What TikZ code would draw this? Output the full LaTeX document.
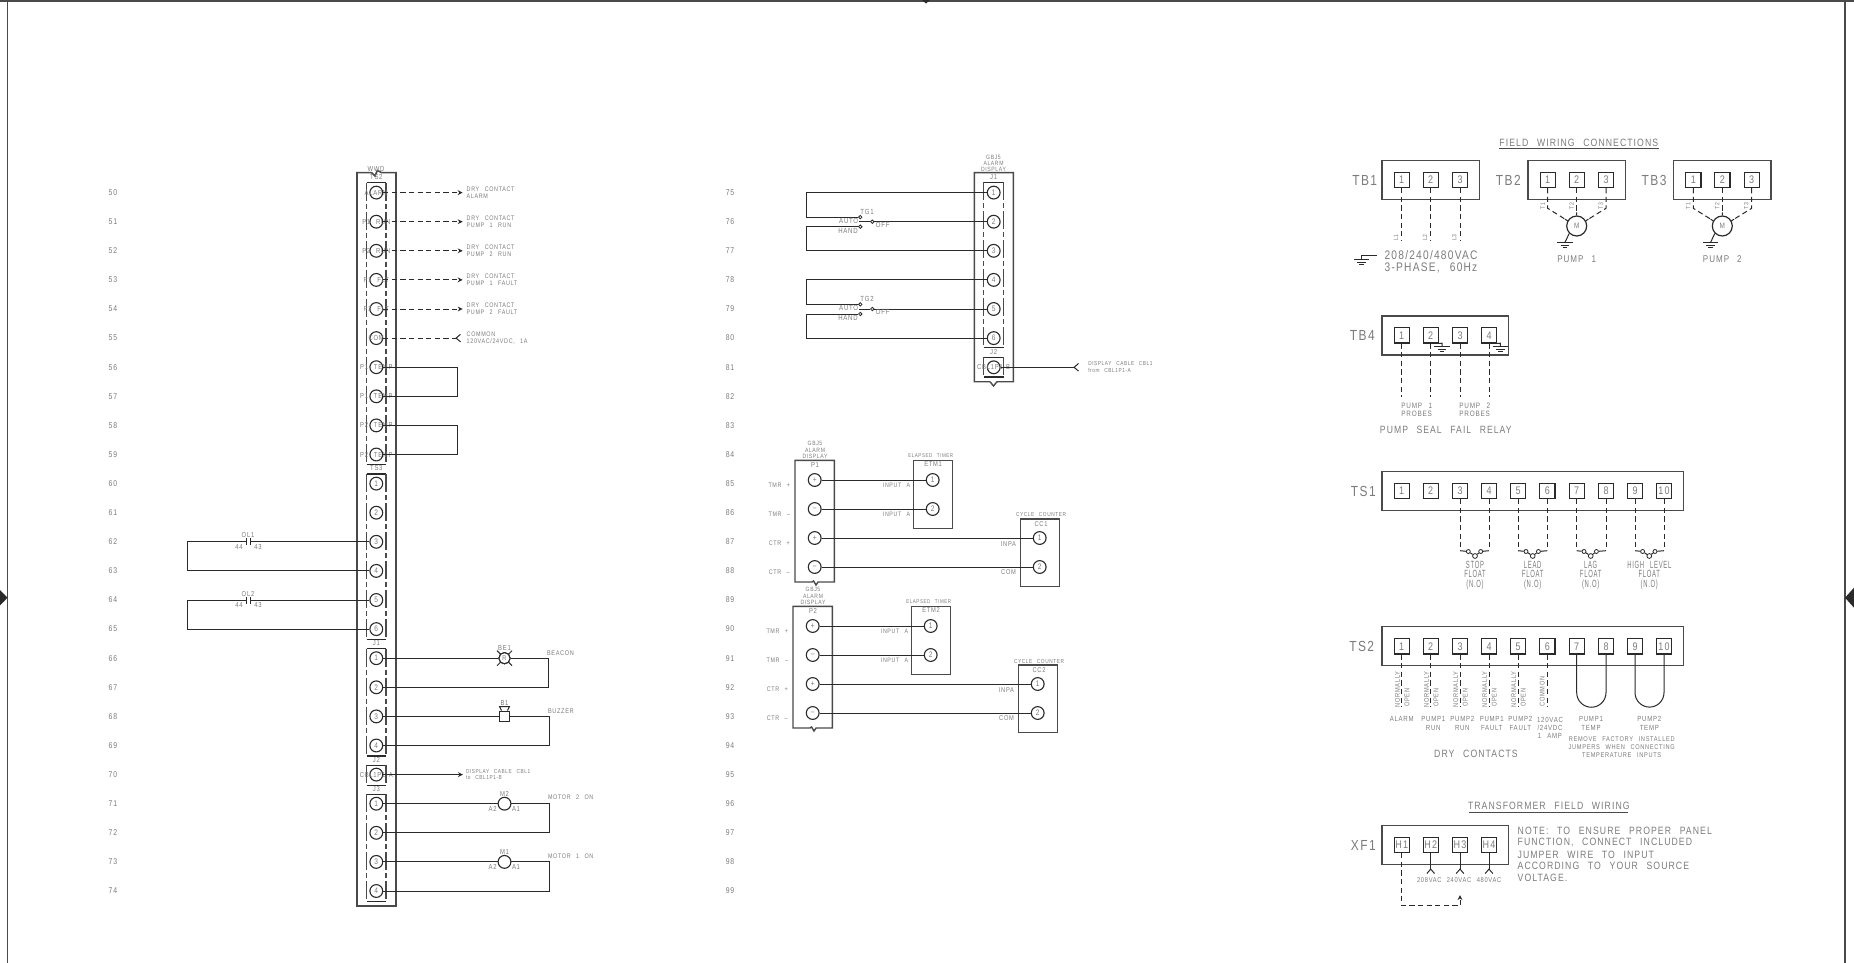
\documentclass[tikz,border=0pt]{standalone}
\usepackage{fontspec}
\usetikzlibrary{arrows.meta}
\newfontfamily\cad[FakeStretch=0.82,LetterSpace=10,WordSpace=2.5]{Liberation Sans}
\definecolor{cadgray}{HTML}{7C7C7C}
\definecolor{ink}{HTML}{2A2A2A}
\definecolor{boxink}{HTML}{4A4A4A}
\tikzset{
 fs/.style 2 args={font=\cad\fontsize{#1}{#2}\selectfont},
 tx/.style={inner sep=0pt,outer sep=0pt,text=cadgray,align=center},
 rowno/.style={tx,fs={4.2}{5}},
 lbl/.style={tx,fs={3.3}{3.5},align=left,anchor=west},
 tiny/.style={tx,fs={3.1}{3.1}},
 sm/.style={tx,fs={3.7}{4.15}},
 note/.style={tx,fs={5.3}{6},anchor=west,align=left},
 big/.style={tx,fs={7.3}{8}},
 w/.style={draw=ink,line width=.5pt},
 bx/.style={draw=boxink,line width=.7pt},
 fw/.style={draw=ink,line width=.5pt,dash pattern=on 2.6pt off 1.7pt},
 ld/.style={draw=boxink,line width=.55pt,dash pattern=on 9pt off 1.5pt on 2.5pt off 1.5pt},
 tm/.style={circle,draw=ink,fill=white,line width=.55pt,minimum size=6.4pt,inner sep=0pt,text=cadgray,fs={4}{4.4}},
 sq/.style={rectangle,draw=ink,line width=.6pt,minimum size=7.6pt,inner sep=0pt,text=cadgray,fs={5.5}{6}},
 sdot/.style={circle,draw=ink,line width=.4pt,minimum size=2pt,inner sep=0pt,fill=white},
 hd/.style={-{Stealth[length=2.5pt,width=2.4pt]}},
 rb/.style={-{Straight Barb[reversed,length=2.2pt,width=3.8pt]}},
}
\newcommand{\sqrow}[3]{\foreach \x/\l [count=\i] in {#3}{\node[sq] (#1\i) at (\x,#2) {\l};}}
\newcommand{\gnd}[2]{\draw[w] (#1,#2) ++(-7.7,0) -- ++(15.4,0) (#1,#2) ++(-4.4,2.7) -- ++(8.8,0) (#1,#2) ++(-2.3,5) -- ++(4.6,0);}
\newcommand{\tbox}[5]{\draw[bx,draw=ink,line width=.6pt] (#2,#3) -- (#4,#3) (#2,#5) -- (#4,#5);\draw[ld] (#2,#3) -- (#2,#5) (#4,#3) -- (#4,#5);\node[tx,fs={3.6}{4}] (#1lab) at ({(#2+#4)/2},#3-5.5) {#1};}
\newcommand{\olc}[4]{%
 \coordinate (#1a) at (246,0 |- t#2);\coordinate (#1b) at (250.6,0 |- t#2);
 \draw[w] (#1a) -- (187,0 |- t#2) -- (187,0 |- t#3) -- (t#3);
 \draw[w] (#1b) -- (t#2);
 \draw[w] (#1a) ++(0,-3.5) -- ++(0,7) (#1b) ++(0,-3.5) -- ++(0,7);
 \node[tx,fs={3.6}{4}] (#1t) at (248,0 |- t#2) [yshift=3.2pt] {#4};
 \node[tx,fs={3.6}{4}] (#1x) at (239,0 |- t#2) [yshift=-2.6pt] {44};
 \node[tx,fs={3.6}{4}] (#1y) at (258,0 |- t#2) [yshift=-2.6pt] {43};}
\newcommand{\coil}[5]{% name row1 row2 label text
 \node[tm,minimum size=6.4pt] (#1) at (504.5,0 |- t#2) {};
 \draw[w] (t#2) -- (#1);
 \draw[w] (#1) -- (549.5,0 |- t#2) -- (549.5,0 |- t#3) -- (t#3);
 \node[tx,fs={3.6}{4}] (#1t) at (504.5,0 |- t#2) [yshift=5pt] {#4};
 \node[tx,fs={3.6}{4}] (#1a) at (492.6,0 |- t#2) [yshift=-2.5pt] {A2};
 \node[tx,fs={3.6}{4}] (#1b) at (516,0 |- t#2) [yshift=-2.5pt] {A1};
 \node[tx,fs={3.3}{4},anchor=west] (#1l) at (548,0 |- t#2) [yshift=3pt] {#5};}
\newcommand{\togg}[5]{% name r1 r2 r3 label
 \node[sdot,minimum size=1.7pt] (#1a) at (860.3,0 |- c#3) [yshift=2.3pt] {};
 \node[sdot,minimum size=1.7pt] (#1h) at (860.3,0 |- c#3) [yshift=-2.5pt] {};
 \node[sdot,minimum size=1.7pt] (#1p) at (872.3,0 |- c#3) {};
 \draw[w] (c#2) -- (806,0 |- c#2) -- (806,0 |- #1a) -- (#1a);
 \draw[w] (#1h) -- (806,0 |- #1h) -- (806,0 |- c#4) -- (c#4);
 \draw[w] (#1p) -- (c#3);
 \draw[w] (859,0 |- c#3) -- (#1p);
 \node[tx,fs={3.7}{4}] (#1t) at (867,0 |- c#3) [yshift=4.8pt] {#5};
 \node[tx,fs={3.7}{4}] (#1u) at (848.7,0 |- c#3) [yshift=.6pt] {AUTO};
 \node[tx,fs={3.7}{4}] (#1d) at (848,0 |- c#3) [yshift=-4.4pt] {HAND};
 \node[tx,fs={3.7}{4}] (#1o) at (882.7,0 |- c#3) [yshift=-1.7pt] {OFF};}
\newcommand{\pblock}[5]{%
\begin{scope}[shift={(#2,#3)}]
 \draw[bx] (812,582) -- (795,582) -- (795,460.3) -- (834.3,460.3) -- (834.3,582) -- (818,582) -- (816,585) -- (813.6,581) -- (812,582);
 \node[tiny] (pt#1) at (815,450) {GBJ5\\ALARM\\DISPLAY};
 \node[tx,fs={3.6}{4}] (pn#1) at (815,465.3) {P#1};
 \foreach \yy/\s/\t [count=\i] in {480/+/TMR +,509/–/TMR –,538/+/CTR +,567/–/CTR –}{
  \node[tm,fs={4}{4.5}] (p#1c\i) at (814.7,\yy) {\s};
  \node[tx,fs={3.3}{4}] (p#1l\i) at (779.3,\yy+5) {\t};}
 \draw[bx] (913.7,460.3) rectangle (952.7,528.3);
 \node[tx,fs={2.75}{3}] (et#1t) at (930.7,456) {ELAPSED TIMER};
 \node[tx,fs={3.5}{4}] (et#1n) at (933,464.3) {#4};
 \node[tm] (e#1a) at (932.7,480) {1};
 \node[tm] (e#1b) at (932.7,509) {2};
 \node[tx,fs={3.2}{4},anchor=east] (e#1x) at (910,485) {INPUT A};
 \node[tx,fs={3.2}{4},anchor=east] (e#1y) at (910,514) {INPUT A};
 \draw[bx] (1020.3,519) rectangle (1059.3,586.7);
 \node[tx,fs={2.9}{3}] (cc#1t) at (1041,515) {CYCLE COUNTER};
 \node[tx,fs={3.5}{4}] (cc#1n) at (1041,524) {#5};
 \node[tm] (k#1a) at (1039.7,538) {1};
 \node[tm] (k#1b) at (1039.7,567) {2};
 \node[tx,fs={3.5}{4},anchor=east] (k#1x) at (1016,543.7) {INPA};
 \node[tx,fs={3.5}{4},anchor=east] (k#1y) at (1016,572.3) {COM};
 \draw[w] (p#1c1) -- (e#1a);
 \draw[w] (p#1c2) -- (e#1b);
 \draw[w] (p#1c3) -- (k#1a);
 \draw[w] (p#1c4) -- (k#1b);
\end{scope}}
\newcommand{\motor}[5]{% name x A B C
 \node[circle,draw=ink,line width=.6pt,minimum size=10pt,inner sep=0pt,text=cadgray,fs={3.9}{4.5}] (#1) at (#2,226) {M};
 \coordinate (#1ca) at (#3.south |- 0,208.3);
 \coordinate (#1cc) at (#5.south |- 0,208.3);
 \draw[fw] (#3.south) -- (#1ca) -- (#1.150);
 \draw[fw] (#4.south) -- (#1.north);
 \draw[fw] (#5.south) -- (#1cc) -- (#1.30);
 \draw[w] (#1.150) -- ++(-2.6,-1.5) (#1.30) -- ++(2.6,-1.5) (#1.north) -- ++(0,-3);
 \foreach \k/\xx in {T1/-5,T2/24,T3/53}{\node[tiny,rotate=90] (#1\k) at ({#2-29+\xx},206) {\k};}
 \coordinate (#1g) at (#2-11.7,242.3);
 \draw[w] (#1.225) .. controls (#2-9.5,238) .. (#1g);
 \gnd{#2-11.7}{242.3}}
\newcommand{\floatsw}[5]{% name sqA sqB x text(lines)
 \coordinate (#1l) at (#2.south |- 0,550.7);
 \coordinate (#1r) at (#3.south |- 0,550.7);
 \draw[fw] (#2.south) -- (#1l);
 \draw[fw] (#3.south) -- (#1r);
 \node[sdot] (#1a) at (#4-6.7,551.5) {};
 \node[sdot] (#1b) at (#4+5.7,551.5) {};
 \node[sdot,minimum size=2.4pt] (#1p) at (#4,556) {};
 \draw[w] (#1l) -- (#1a);
 \draw[w] (#1b) -- (#1r);
 \draw[w] (#1a) -- (#1p);
 \draw[w] (#1p) -- (#1b);
 \node[tx,fs={3.6}{4.75}] (#1t) at (#4,575) {#5};}
\newcommand{\tl}[1]{\scalebox{1}[1.45]{#1}}
\begin{document}
\begin{tikzpicture}[x=0.5pt,y=-0.5pt]
\useasboundingbox (0,0) rectangle (1854,963);
\fill[white] (0,0) rectangle (1854,963);
% frame
\coordinate (fa) at (7.5,0);\coordinate (fb) at (7.5,963);
\coordinate (fc) at (1845,0);\coordinate (fd) at (1845,963);
\coordinate (fe) at (0,1.2);\coordinate (ff) at (1854,1.2);
\draw[draw=boxink,line width=.7pt] (fa) -- (fb) (fc) -- (fd) (fe) -- (ff);
\fill[ink] (0,590) -- (7.5,597.7) -- (0,605.4) -- cycle;
\fill[ink] (1854,587.7) -- (1845,597.7) -- (1854,607.7) -- cycle;
\fill[ink] (922,0) -- (930,0) -- (926,3.5) -- cycle;
% row numbers
\foreach \n [evaluate=\n as \y using 192.6+29.1*(\n-50)] in {50,...,74}{\node[rowno] (rn\n) at (113,\y) {\n};}
\foreach \n [evaluate=\n as \y using 192.6+29.1*(\n-75)] in {75,...,99}{\node[rowno] (rn\n) at (730,\y) {\n};}
% ---- left strip
\draw[bx,line width=.8pt] (371.7,172.7) -- (357,172.7) -- (357,906) -- (396,906) -- (396,172.7) -- (381.7,172.7) -- (377.3,170.5) -- (375,176) -- (371.7,172.7);
\node[tx,fs={3.6}{4}] (wwd) at (376,169.5) {WWD};
\tbox{TS2}{366.7}{182.6}{386}{464.5}
\tbox{TS3}{366.7}{474}{386}{639.6}
\tbox{J1}{366.7}{648.5}{386}{756}
\tbox{J2}{366.7}{765.2}{386}{785.2}
\tbox{J3}{366.7}{794.3}{386}{901.3}
\foreach \n/\t [evaluate=\n as \y using 192.6+29.1*(\n-50)] in {50/,51/,52/,53/,54/,55/,56/,57/,58/,59/,60/1,61/2,62/3,63/4,64/5,65/6,66/1,67/2,68/3,69/4,70/,71/1,72/2,73/3,74/4}{\node[tm] (t\n) at (376.3,\y) {\t};}
\foreach \n/\t in {50/ALARM,51/P1 RUN,52/P2 RUN,53/P1 FLT,54/P2 FLT,55/COM,56/P1 TEMP,57/P1 TEMP,58/P2 TEMP,59/P2 TEMP,70/CBL1P1-A}{\node[tx,fs={3.6}{4}] (tt\n) at (t\n) {\t};}
\foreach \n/\b in {50/ALARM,51/PUMP 1 RUN,52/PUMP 2 RUN,53/PUMP 1 FAULT,54/PUMP 2 FAULT}{
 \coordinate (a\n) at (462.7,0 |- t\n);
 \draw[fw,hd] (t\n) -- (a\n);
 \node[lbl] (l\n) at (466.7,0 |- t\n) {DRY CONTACT\\\b};}
\coordinate (a55) at (461,0 |- t55);
\draw[fw,rb] (t55) -- (a55);
\node[lbl] (l55) at (466.7,0 |- t55) {COMMON\\120VAC/24VDC, 1A};
\draw[w] (t56) -- (457.7,0 |- t56) -- (457.7,0 |- t57) -- (t57);
\draw[w] (t58) -- (457.7,0 |- t58) -- (457.7,0 |- t59) -- (t59);
\olc{ola}{62}{63}{OL1}
\olc{olb}{64}{65}{OL2}
% beacon
\node[tm,minimum size=5.6pt,fs={3.4}{4}] (be) at (504.5,0 |- t66) {R};
\draw[w] (t66) -- (be);
\draw[w] (be) -- (548.4,0 |- t66) -- (548.4,0 |- t67) -- (t67);
\draw[w] (be.center) ++(-7.5,-7.5) -- ++(15,15) (be.center) ++(-7.5,7.5) -- ++(15,-15);
\node[tm,minimum size=5.6pt,fs={3.4}{4}] (ber) at (be) {R};
\node[tx,fs={3.6}{4}] (bet) at (504.5,0 |- t66) [yshift=5pt] {BE1};
\node[tx,fs={3.4}{4},anchor=west] (bel) at (547,0 |- t66) [yshift=2.5pt] {BEACON};
% buzzer
\node[rectangle,draw=ink,line width=.6pt,fill=white,minimum size=5.2pt,inner sep=0pt] (bz) at (504.5,0 |- t68) {};
\draw[w] (t68) -- (bz);
\draw[w] (bz) -- (549.5,0 |- t68) -- (549.5,0 |- t69) -- (t69);
\draw[w] (bz.north) ++(-3,0) -- ++(-2,-4) -- ++(10,0) -- ++(-2,4);
\node[tx,fs={3.6}{4}] (bzt) at (504.5,0 |- t68) [yshift=6.5pt] {B1};
\node[tx,fs={3.4}{4},anchor=west] (bzl) at (548,0 |- t68) [yshift=2.75pt] {BUZZER};
% cable
\coordinate (a70) at (463,0 |- t70);
\draw[w,hd] (t70) -- (a70);
\node[lbl,fs={2.9}{3.3}] (l70) at (466,0 |- t70) {DISPLAY CABLE CBL1\\to CBL1P1-B};
\coil{mb}{71}{72}{M2}{MOTOR 2 ON}
\coil{ma}{73}{74}{M1}{MOTOR 1 ON}
% ---- alarm display J1/J2
\draw[bx] (990,381.7) -- (974.3,381.7) -- (974.3,172.7) -- (1013.3,172.7) -- (1013.3,381.7) -- (997,381.7) -- (993.5,386) -- (990,381.7);
\node[tiny] (gbj) at (993.5,163.5) {GBJ5\\ALARM\\DISPLAY};
\tbox{J1}{983.7}{182.3}{1003.7}{347.7}
\tbox{J2}{983.7}{357.3}{1003.7}{377}
\foreach \n/\t [evaluate=\n as \y using 192.6+29.1*(\n-75)] in {75/1,76/2,77/3,78/4,79/5,80/6}{\node[tm] (c\n) at (993.7,\y) {\t};}
\node[tm] (c81) at (993.7,367.3) {};
\node[tx,fs={3.6}{4}] (c81t) at (c81) {CBL1P1-B};
\coordinate (a81) at (1079,0 |- c81);
\draw[w,rb] (c81) -- (a81);
\node[lbl,fs={2.9}{3.6}] (l81) at (1088.3,0 |- c81) {DISPLAY CABLE CBL1\\from CBL1P1-A};
\togg{sa}{75}{76}{77}{TG1}
\togg{sb}{78}{79}{80}{TG2}
% ---- timers and counters
\pblock{1}{0}{0}{ETM1}{CC1}
\pblock{2}{-2}{146}{ETM2}{CC2}
% ---- field wiring
\node[tx,fs={5.3}{6}] (ttl1) at (1578.8,143.3) {FIELD WIRING CONNECTIONS};
\coordinate (u1a) at (1499,148.3);\coordinate (u1b) at (1658.5,148.3);
\draw[draw=boxink,line width=.45pt] (u1a) -- (u1b);
\draw[bx] (1382,160.7) rectangle (1479.7,199.3);
\draw[bx] (1528,160.7) rectangle (1625.3,199.3);
\draw[bx] (1673.7,160.7) rectangle (1771,199.3);
\node[big] (ltb1) at (1364.7,180) {TB1};
\node[big] (ltb2) at (1508.3,180) {TB2};
\node[big] (ltb3) at (1654,180) {TB3};
\sqrow{ta}{180}{1401.7/1,1430.7/2,1460/3}
\sqrow{tc}{180}{1547.7/1,1576.7/2,1606/3}
\sqrow{td}{180}{1693.3/1,1722.3/2,1751.7/3}
\foreach \i/\x/\lx in {1/1401.7/L1,2/1430.7/L2,3/1460/L3}{
 \coordinate (tae\i) at (\x,241);
 \draw[fw] (ta\i.south) -- (tae\i);
 \node[tiny,rotate=90] (tal\i) at (\x-5.7,237.7) {\lx};}
\coordinate (g1a) at (1376.7,255);\coordinate (g1b) at (1361.7,255);\coordinate (g1c) at (1361.7,259.3);
\draw[w] (g1a) -- (g1b) -- (g1c);
\gnd{1361.7}{259.3}
\node[tx,fs={6.2}{6}] (pw) at (1431,261.7) {208/240/480VAC\\3-PHASE, 60Hz};
\motor{mp}{1576.7}{tc1}{tc2}{tc3}
\motor{mq}{1722.3}{td1}{td2}{td3}
\node[tx,fs={4.9}{5}] (pa) at (1576.7,259.3) {PUMP 1};
\node[tx,fs={4.9}{5}] (pb) at (1722.3,259.3) {PUMP 2};
% TB4
\draw[bx] (1382,316) rectangle (1508.7,355);
\node[big] (ltb4) at (1362.3,335.3) {TB4};
\sqrow{te}{335.3}{1401.7/1,1430.7/2,1460/3,1489/4}
\foreach \i/\x in {1/1401.7,2/1430.7,3/1460,4/1489}{
 \coordinate (tee\i) at (\x,396.7);
 \draw[fw] (te\i.south) -- (tee\i);}
\coordinate (g2a) at (1442,343.2);\coordinate (g2b) at (1442,346.7);
\draw[w] (te2.south east) -- (g2a) -- (g2b);
\gnd{1442}{346.7}
\coordinate (g3a) at (1500.3,343.2);\coordinate (g3b) at (1500.3,346.7);
\draw[w] (te4.south east) -- (g3a) -- (g3b);
\gnd{1500.3}{346.7}
\node[tx,fs={3.9}{4}] (pp1) at (1416.7,409.7) {PUMP 1\\PROBES};
\node[tx,fs={3.9}{4}] (pp2) at (1474.7,409.7) {PUMP 2\\PROBES};
\node[tx,fs={5.25}{6}] (psf) at (1445.8,430) {PUMP SEAL FAIL RELAY};
% TS1
\draw[bx] (1382,471.7) rectangle (1683.7,510.3);
\node[big] (lts1) at (1363.3,491) {TS1};
\sqrow{ts}{491}{1401.7/1,1430.7/2,1460/3,1489/4,1518/5,1547.3/6,1576.7/7,1606/8,1635/9,1664/10}
\floatsw{fa}{ts3}{ts4}{1475}{\tl{STOP}\\\tl{FLOAT}\\\tl{(N.O)}}
\floatsw{fb}{ts5}{ts6}{1532.7}{\tl{LEAD}\\\tl{FLOAT}\\\tl{(N.O)}}
\floatsw{fc}{ts7}{ts8}{1590.7}{\tl{LAG}\\\tl{FLOAT}\\\tl{(N.O)}}
\floatsw{fd}{ts9}{ts10}{1649.3}{\tl{HIGH LEVEL}\\\tl{FLOAT}\\\tl{(N.O)}}
% TS2
\draw[bx] (1382,626.7) rectangle (1683.7,665.7);
\node[big] (lts2) at (1361.7,646.3) {TS2};
\sqrow{tz}{646.3}{1401.7/1,1430.7/2,1460/3,1489/4,1518/5,1547.3/6,1576.7/7,1606/8,1635/9,1664/10}
\foreach \i/\x in {1/1401.7,2/1430.7,3/1460,4/1489,5/1518}{
 \coordinate (tze\i) at (\x,707.3);
 \draw[fw] (tz\i.south) -- (tze\i);
 \node[tx,fs={3.45}{4},rotate=90] (tzn\i) at (\x-4.3,689.3) {NORMALLY};
 \node[tx,fs={3.45}{4},rotate=90] (tzo\i) at (\x+5.3,697.5) {OPEN};}
\coordinate (tze6) at (1547.3,707.3);
\draw[fw] (tz6.south) -- (tze6);
\node[tx,fs={3.45}{4},rotate=90] (tzc6) at (1542.3,691.7) {COMMON};
\draw[w] (tz7.south) -- (1576.7,692.6) arc[start angle=180,end angle=0,radius=14.65] -- (tz8.south);
\draw[w] (tz9.south) -- (1635,692.6) arc[start angle=180,end angle=0,radius=14.5] -- (tz10.south);
\node[sm] (da) at (1401.7,719.3) {ALARM};
\node[sm] (db) at (1433.3,723.5) {PUMP1\\RUN};
\node[sm] (dc) at (1462.3,723.5) {PUMP2\\RUN};
\node[sm] (dd) at (1491.7,723.5) {PUMP1\\FAULT};
\node[sm] (de) at (1520.3,723.5) {PUMP2\\FAULT};
\node[sm] (df) at (1550,727.8) {120VAC\\/24VDC\\1 AMP};
\node[sm] (dg) at (1591,723.5) {PUMP1\\TEMP};
\node[sm] (dh) at (1649.3,723.5) {PUMP2\\TEMP};
\node[tx,fs={3.45}{4}] (di) at (1621.7,747.3) {REMOVE FACTORY INSTALLED\\JUMPERS WHEN CONNECTING\\TEMPERATURE INPUTS};
\node[tx,fs={5.3}{6}] (dj) at (1476,754.3) {DRY CONTACTS};
% XF1
\node[tx,fs={5.3}{6}] (ttl2) at (1548.8,806.3) {TRANSFORMER FIELD WIRING};
\coordinate (u2a) at (1469.3,812.7);\coordinate (u2b) at (1628.3,812.7);
\draw[draw=boxink,line width=.45pt] (u2a) -- (u2b);
\draw[bx] (1382,825.7) rectangle (1508.7,864.7);
\node[big] (lxf) at (1363.3,845) {XF1};
\sqrow{xf}{845}{1401.7/H1,1430.7/H2,1460/H3,1489/H4}
\foreach \i/\x/\t in {2/1429.3/208VAC,3/1459/240VAC,4/1489/480VAC}{
 \coordinate (xe\i) at (xf\i.south |- 0,874);
 \draw[w,rb] (xf\i.south) -- (xe\i);
 \node[tx,fs={3.5}{4}] (xl\i) at (\x,880.5) {\t};}
\coordinate (xa) at (1401.7,905.7);\coordinate (xb) at (1460,905.7);\coordinate (xc) at (1460,895);
\draw[fw,hd] (xf1.south) -- (xa) -- (xb) -- (xc);
\foreach \t/\y [count=\i] in {NOTE: TO ENSURE PROPER PANEL/830.7,{FUNCTION, CONNECT INCLUDED}/842.7,JUMPER WIRE TO INPUT/854.4,ACCORDING TO YOUR SOURCE/866.3,VOLTAGE./878.3}{\node[note] (nt\i) at (1517.7,\y) {\t};}
\end{tikzpicture}
\end{document}
